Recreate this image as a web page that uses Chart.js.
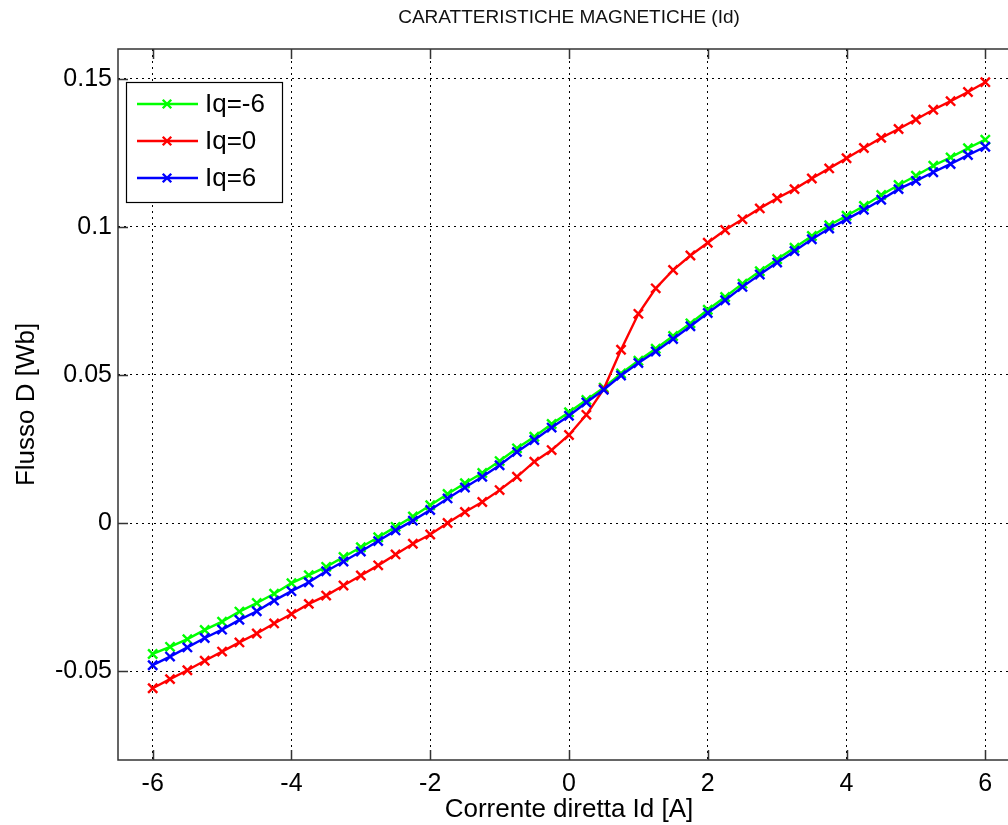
<!DOCTYPE html>
<html>
<head>
<meta charset="utf-8">
<script src="https://cdn.jsdelivr.net/npm/chart.js@4/dist/chart.umd.min.js"></script>
<style>
  html, body { margin: 0; padding: 0; background: #fff; overflow: hidden; }
  #wrap { width: 1030px; height: 825px; }
</style>
</head>
<body>
<div id="wrap"><canvas id="chart" width="1030" height="825"></canvas></div>
<script>
// corrente diretta Id [A]
const idValues = [-6, -5.75, -5.5, -5.25, -5, -4.75, -4.5, -4.25, -4, -3.75, -3.5, -3.25, -3, -2.75, -2.5, -2.25,
  -2, -1.75, -1.5, -1.25, -1, -0.75, -0.5, -0.25, 0, 0.25, 0.5, 0.75, 1, 1.25, 1.5, 1.75,
  2, 2.25, 2.5, 2.75, 3, 3.25, 3.5, 3.75, 4, 4.25, 4.5, 4.75, 5, 5.25, 5.5, 5.75, 6];

// flusso D [Wb] per Iq = -6, 0, 6
const fluxIqM6 = [-0.0442, -0.0418, -0.0392, -0.0361, -0.0333, -0.0299, -0.0270, -0.0239, -0.0203, -0.0176, -0.0148, -0.0115, -0.0082, -0.0048, -0.0013, 0.0022,
  0.0060, 0.0098, 0.0134, 0.0169, 0.0209, 0.0252, 0.0291, 0.0334, 0.0374, 0.0415, 0.0457, 0.0505, 0.0548, 0.0588, 0.0631, 0.0674,
  0.0720, 0.0763, 0.0808, 0.0850, 0.0890, 0.0929, 0.0969, 0.1005, 0.1037, 0.1070, 0.1107, 0.1141, 0.1172, 0.1206, 0.1234, 0.1265, 0.1294];
const fluxIq0 = [-0.0558, -0.0527, -0.0497, -0.0465, -0.0434, -0.0403, -0.0373, -0.0339, -0.0307, -0.0273, -0.0245, -0.0211, -0.0177, -0.0143, -0.0106, -0.0070,
  -0.0039, 0.0000, 0.0037, 0.0071, 0.0111, 0.0156, 0.0207, 0.0246, 0.0297, 0.0365, 0.0452, 0.0585, 0.0706, 0.0792, 0.0854, 0.0903,
  0.0946, 0.0989, 0.1025, 0.1062, 0.1096, 0.1127, 0.1163, 0.1197, 0.1231, 0.1266, 0.1300, 0.1330, 0.1362, 0.1395, 0.1424, 0.1455, 0.1488];
const fluxIq6 = [-0.0480, -0.0451, -0.0420, -0.0388, -0.0360, -0.0327, -0.0298, -0.0262, -0.0230, -0.0200, -0.0163, -0.0130, -0.0096, -0.0061, -0.0025, 0.0008,
  0.0044, 0.0083, 0.0120, 0.0156, 0.0195, 0.0240, 0.0280, 0.0322, 0.0362, 0.0407, 0.0450, 0.0498, 0.0540, 0.0579, 0.0621, 0.0664,
  0.0709, 0.0752, 0.0797, 0.0839, 0.0879, 0.0918, 0.0958, 0.0994, 0.1025, 0.1057, 0.1091, 0.1127, 0.1155, 0.1184, 0.1212, 0.1242, 0.1270];

const xTicks = [-6, -4, -2, 0, 2, 4, 6];
const yTicks = [-0.05, 0, 0.05, 0.1, 0.15];

const FONT = "'Liberation Sans', Arial, sans-serif";

function pts(ys) {
  return ys.map((y, i) => ({ x: idValues[i], y: y }));
}

function serie(label, color, ys, order) {
  return {
    label: label,
    data: pts(ys),
    borderColor: color,
    backgroundColor: color,
    borderWidth: 2.4,
    pointStyle: 'crossRot',
    pointRadius: 6.5,
    pointBorderWidth: 2.4,
    pointBorderColor: color,
    tension: 0,
    fill: false,
    order: order
  };
}

// titolo sopra l'area del grafico
const titlePlugin = {
  id: 'titolo',
  afterDraw(chart) {
    const { ctx, chartArea } = chart;
    ctx.save();
    ctx.fillStyle = '#111';
    ctx.font = '19px ' + FONT;
    ctx.textAlign = 'center';
    ctx.textBaseline = 'middle';
    ctx.fillText('CARATTERISTICHE MAGNETICHE (Id)', (chartArea.left + chartArea.right) / 2, 18);
    ctx.restore();
  }
};

// bordo e tacche interne stile matlab
const boxPlugin = {
  id: 'box',
  beforeDatasetsDraw(chart) {
    const { ctx, chartArea: a, scales } = chart;
    ctx.save();
    ctx.strokeStyle = '#333';
    ctx.lineWidth = 1.5;
    ctx.strokeRect(a.left, a.top, a.right - a.left, a.bottom - a.top);
    ctx.beginPath();
    xTicks.forEach(v => {
      const px = Math.round(scales.x.getPixelForValue(v)) + 0.5;
      ctx.moveTo(px, a.bottom); ctx.lineTo(px, a.bottom - 10);
      ctx.moveTo(px, a.top); ctx.lineTo(px, a.top + 10);
    });
    yTicks.forEach(v => {
      const py = Math.round(scales.y.getPixelForValue(v)) + 0.5;
      ctx.moveTo(a.left, py); ctx.lineTo(a.left + 10, py);
      ctx.moveTo(a.right, py); ctx.lineTo(a.right - 10, py);
    });
    ctx.stroke();
    ctx.restore();
  }
};

// legenda dentro il grafico
const legendPlugin = {
  id: 'legenda',
  afterDraw(chart) {
    const { ctx } = chart;
    const x0 = 126, y0 = 82, w = 156, h = 120;
    ctx.save();
    ctx.fillStyle = '#fff';
    ctx.fillRect(x0, y0, w, h);
    ctx.strokeStyle = '#000';
    ctx.lineWidth = 1.2;
    ctx.strokeRect(x0 + 0.5, y0 + 0.5, w, h);
    chart.data.datasets.forEach((ds, i) => {
      const y = 104 + i * 37;
      ctx.strokeStyle = ds.borderColor;
      ctx.lineWidth = 2.4;
      ctx.beginPath();
      ctx.moveTo(137, y); ctx.lineTo(198, y);
      ctx.stroke();
      ctx.lineWidth = 2.4;
      Chart.helpers.drawPoint(ctx, { pointStyle: 'crossRot', radius: 6, borderWidth: 2.4 }, 167, y);
      ctx.fillStyle = '#000';
      ctx.font = '26px ' + FONT;
      ctx.textAlign = 'left';
      ctx.textBaseline = 'middle';
      ctx.fillText(ds.label, 205, y + 1);
    });
    ctx.restore();
  }
};

new Chart(document.getElementById('chart'), {
  type: 'line',
  data: {
    datasets: [
      serie('Iq=-6', '#00ff00', fluxIqM6, 2),
      serie('Iq=0', '#ff0000', fluxIq0, 1),
      serie('Iq=6', '#0000ff', fluxIq6, 0)
    ]
  },
  options: {
    responsive: false,
    devicePixelRatio: 1,
    animation: false,
    layout: { padding: { top: 49, right: 10, left: 0, bottom: 0 } },
    plugins: {
      legend: { display: false },
      tooltip: { enabled: false },
      title: { display: false }
    },
    scales: {
      x: {
        type: 'linear',
        min: -6.5,
        max: 6.5,
        afterBuildTicks: s => { s.ticks = xTicks.map(v => ({ value: v })); },
        afterFit: s => { s.height = 65; },
        ticks: {
          font: { family: FONT, size: 25 },
          color: '#000',
          padding: 9,
          maxRotation: 0,
          autoSkip: false,
          callback: v => String(v)
        },
        grid: { color: '#000', lineWidth: 1, drawTicks: false },
        border: { display: false, dash: [2, 4] },
        title: {
          display: true,
          text: 'Corrente diretta Id [A]',
          font: { family: FONT, size: 26 },
          color: '#000',
          padding: { top: 0, bottom: 0 }
        }
      },
      y: {
        type: 'linear',
        min: -0.08,
        max: 0.16,
        afterBuildTicks: s => { s.ticks = yTicks.map(v => ({ value: v })); },
        afterFit: s => { s.width = 118; },
        ticks: {
          font: { family: FONT, size: 25 },
          color: '#000',
          padding: 6,
          autoSkip: false,
          callback: v => String(v)
        },
        grid: { color: '#000', lineWidth: 1, drawTicks: false },
        border: { display: false, dash: [2, 4] },
        title: {
          display: true,
          text: 'Flusso D [Wb]',
          font: { family: FONT, size: 26 },
          color: '#000',
          padding: { top: 11, bottom: 0 }
        }
      }
    }
  },
  plugins: [titlePlugin, boxPlugin, legendPlugin]
});
</script>
</body>
</html>
